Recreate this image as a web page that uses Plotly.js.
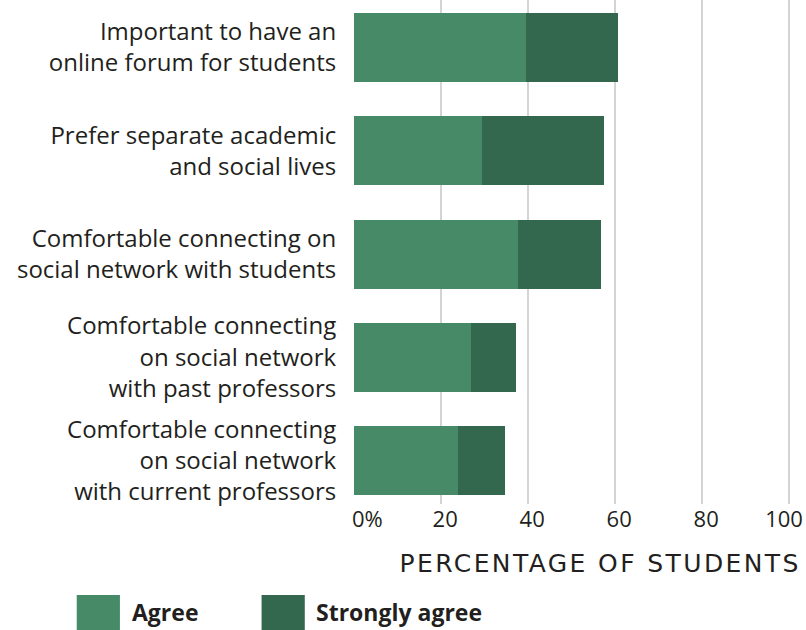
<!DOCTYPE html>
<html>
<head>
<meta charset="utf-8">
<script src="https://cdn.plot.ly/plotly-3.0.1.min.js"></script>
<style>
html,body{margin:0;padding:0;background:#fff;}
#chart{width:806px;height:630px;}
#chart g.annotation[data-index="0"] text.annotation-text{letter-spacing:2.4px;}
</style>
</head>
<body>
<div id="chart"></div>
<script>
const categories = [
  "Important to have an<br>online forum for students",
  "Prefer separate academic<br>and social lives",
  "Comfortable connecting on<br>social network with students",
  "Comfortable connecting<br>on social network<br>with past professors",
  "Comfortable connecting<br>on social network<br>with current professors"
];
const agree = [39.5, 29.4, 37.7, 26.9, 23.9];
const stronglyAgree = [21.2, 28.1, 19.1, 10.3, 10.8];
const tickValues = [0, 20, 40, 60, 80, 100];
const tickLabels = ["0%", "20", "40", "60", "80", "100"];
const seriesNames = ["Agree", "Strongly agree"];
const colors = ["#468A68", "#33684E"];

const font = "'Open Sans', Lato, sans-serif";
const titleFont = "'DejaVu Sans', 'Open Sans', sans-serif";
const textColor = "#231F20";

// small leading spacers nudge the labels right of their gridlines, as in the source
const FS = "\u2007", NB = "\u00a0";
const tickText = tickLabels.map((t, i) =>
  i === 0 ? FS + FS + NB + NB + t : (i === tickLabels.length - 1 ? t : FS + NB + t));

const traces = [
  {type: "bar", orientation: "h", y: categories, x: agree, name: seriesNames[0],
   marker: {color: colors[0]}, showlegend: false, hoverinfo: "x+name"},
  {type: "bar", orientation: "h", y: categories, x: stronglyAgree, name: seriesNames[1],
   marker: {color: colors[1]}, showlegend: false, hoverinfo: "x+name"}
];

const W = 435, H = 504, L = 354;
const px = v => (v - L) / W;
const py = v => (H - v) / H;

const layout = {
  width: 806, height: 630,
  margin: {l: L, r: 806 - L - W - 2, t: 0, b: 630 - H},
  barmode: "stack",
  bargap: 0.332,
  paper_bgcolor: "#fff", plot_bgcolor: "#fff",
  font: {family: font, color: textColor, size: 23},
  xaxis: {
    range: [0, 100.46], tickvals: tickValues, ticktext: tickText,
    showgrid: true, gridcolor: "#D4D4D4", gridwidth: 2, zeroline: false,
    showline: false, ticks: "", ticklabelshift: -5,
    tickfont: {family: font, size: 22, color: textColor}, fixedrange: true
  },
  yaxis: {
    type: "category", range: [4.421, -0.46], showgrid: false, zeroline: false,
    showline: false, ticks: "outside", ticklen: 12, tickcolor: "rgba(0,0,0,0)",
    tickfont: {family: font, size: 24, color: textColor}, fixedrange: true
  },
  shapes: [
    {type: "rect", xref: "paper", yref: "paper", x0: px(78), x1: px(121), y0: py(595), y1: py(632),
     fillcolor: colors[0], line: {width: 0}},
    {type: "rect", xref: "paper", yref: "paper", x0: px(262), x1: px(305), y0: py(595), y1: py(632),
     fillcolor: colors[1], line: {width: 0}}
  ],
  annotations: [
    {xref: "paper", yref: "paper", x: px(598.5), y: py(563), xanchor: "center", yanchor: "middle",
     text: "PERCENTAGE OF STUDENTS", showarrow: false,
     font: {family: titleFont, size: 25, color: textColor}},
    {xref: "paper", yref: "paper", x: px(131), y: py(612), xanchor: "left", yanchor: "middle",
     text: "<b>" + seriesNames[0] + "</b>", showarrow: false,
     font: {family: font, size: 23, color: textColor}},
    {xref: "paper", yref: "paper", x: px(314), y: py(612), xanchor: "left", yanchor: "middle",
     text: "<b>" + seriesNames[1] + "</b>", showarrow: false,
     font: {family: font, size: 23, color: textColor}}
  ]
};

Plotly.newPlot("chart", traces, layout, {displayModeBar: false, staticPlot: true});
</script>
</body>
</html>
